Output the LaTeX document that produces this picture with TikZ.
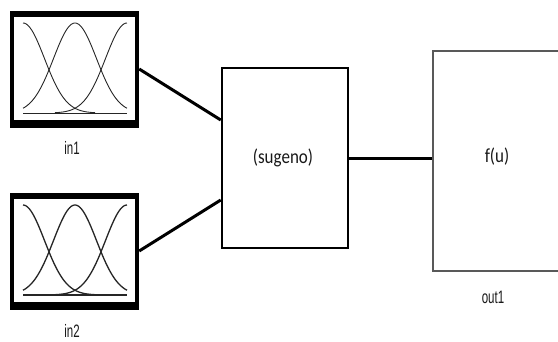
\documentclass[tikz,border=0pt]{standalone}
\usepackage{fontspec}
\setmainfont{Liberation Sans}
\newfontfamily\lblfont[FakeStretch=0.64]{Liberation Sans}
\newfontfamily\calfont[FakeStretch=0.85]{Carlito}
\begin{document}
\begin{tikzpicture}[x=1pt,y=-1pt,
  fisbox/.style={rectangle,fill=black,inner sep=0pt,minimum width=129pt,minimum height=117pt},
  blockbox/.style={rectangle,draw=black,line width=2.5pt,inner sep=0pt},
  outbox/.style={rectangle,draw=black!65,line width=2pt,inner sep=0pt},
  conn/.style={line width=3pt,black},
  mf/.style={line width=0.9pt,black!85},
  lbl/.style={font=\lblfont\fontsize{18}{20}\selectfont,text=black!90,inner sep=0pt},
  blk/.style={font=\calfont\fontsize{20}{22}\selectfont,text=black!90,inner sep=0pt}]
\useasboundingbox (0,0) rectangle (558,341);
\clip (0,0) rectangle (558,341);
\fill[white] (0,0) rectangle (558,341);

% input blocks
\node[fisbox] (in1) at (74.5,69) {};
\node[fisbox] (in2) at (74.5,251) {};
\foreach \b/\dy/\w in {in1/0/0.9,in2/182/1.3}{
  \fill[white] (14,17+\dy) rectangle (135,120+\dy);
  \begin{scope}[line width=\w pt,black!85]
    \draw (23,113+\dy) -- (127,113+\dy);
    \draw plot[domain=23:127,samples=70] (\x,{113+\dy-90*exp(-((\x-75)^2)/920)});
    \draw plot[domain=23:95,samples=50] (\x,{113+\dy-90*exp(-((\x-23)^2)/920)});
    \draw plot[domain=55:127,samples=50] (\x,{113+\dy-90*exp(-((\x-127)^2)/920)});
  \end{scope}
}
\node[lbl] (in1lbl) at (72,148) {in1};
\node[lbl] (in2lbl) at (72,331) {in2};

% sugeno block
\node[blockbox,minimum width=126pt,minimum height=180pt] (sug) at (285,158) {};
\node[blk] (suglbl) at (283,158) {(sugeno)};

% output block
\node[outbox,minimum width=128pt,minimum height=220pt] (fu) at (497,161) {};
\node[blk] (fulbl) at (497,157) {f(u)};
\node[lbl] (out1lbl) at (493,297) {out1};

% connectors
\coordinate (s1) at ([yshift=38pt]sug.west);
\coordinate (s2) at ([yshift=-42pt]sug.west);
\coordinate (fin) at (sug.east -| fu.west);
\draw[conn] (in1.east) -- (s1);
\draw[conn] (in2.east) -- (s2);
\draw[conn] (sug.east) -- (fin);
\end{tikzpicture}
\end{document}
